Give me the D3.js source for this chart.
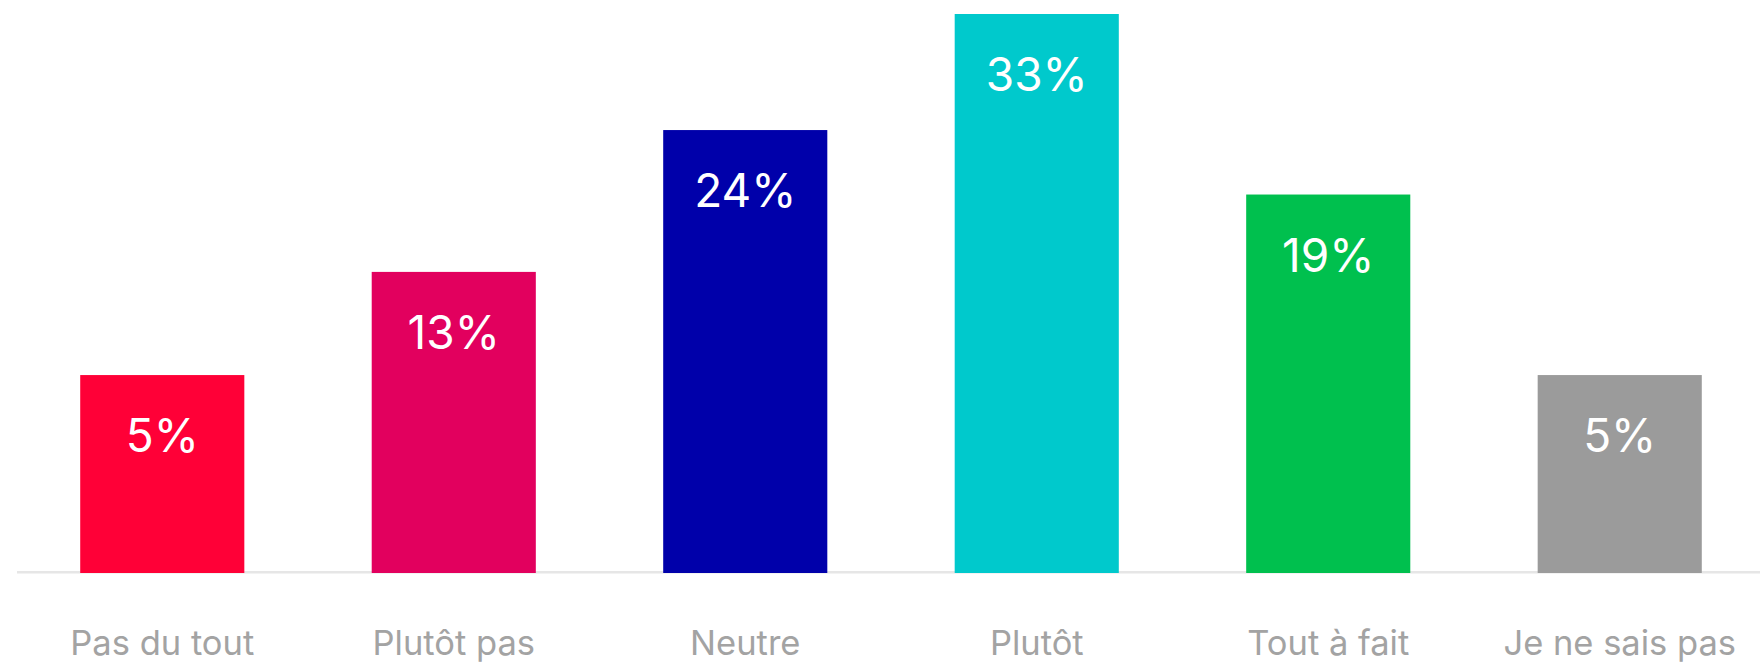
<!DOCTYPE html>
<html>
<head>
<meta charset="utf-8">
<script src="https://cdn.jsdelivr.net/npm/d3@7/dist/d3.min.js"></script>
<style>
  html, body { margin: 0; padding: 0; background: #ffffff; }
  svg { display: block; }
  text { font-family: Inter, "Noto Sans", sans-serif; }
</style>
</head>
<body>
<svg id="chart" width="1760" height="663"></svg>
<script>
// Survey answers and their shares (%)
const categories = ["Pas du tout", "Plutôt pas", "Neutre", "Plutôt", "Tout à fait", "Je ne sais pas"];
const values = [5, 13, 24, 33, 19, 5];
const colors = ["#ff0037", "#e2005e", "#0000aa", "#00c9cc", "#00c04e", "#9b9b9b"];
const valueLabels = values.map(v => v + "%");

const width = 1760, height = 663;
const baseline = 573;
const svg = d3.select("#chart");

const x = d3.scaleBand()
  .domain(categories)
  .range([19, 1763])
  .paddingInner(0.437)
  .paddingOuter(0.21);

// value axis starts below zero so short bars keep room for their label
const y = d3.scaleLinear()
  .domain([-10.35, 33])
  .range([baseline, 14]);

// baseline rule
svg.append("line")
  .attr("x1", 17).attr("x2", width)
  .attr("y1", 572.3).attr("y2", 572.3)
  .attr("stroke", "#e6e6e6")
  .attr("stroke-width", 2.5);

const rows = categories.map((c, i) => ({ c, v: values[i], color: colors[i], label: valueLabels[i] }));

svg.selectAll("rect.bar")
  .data(rows)
  .join("rect")
  .attr("class", "bar")
  .attr("x", d => x(d.c))
  .attr("width", x.bandwidth())
  .attr("y", d => y(d.v))
  .attr("height", d => baseline - y(d.v))
  .attr("fill", d => d.color);

svg.selectAll("text.value")
  .data(rows)
  .join("text")
  .attr("class", "value")
  .attr("x", d => x(d.c) + x.bandwidth() / 2)
  .attr("y", d => y(d.v) + 77)
  .attr("text-anchor", "middle")
  .attr("fill", "#ffffff")
  .attr("font-size", 46)
  .text(d => d.label);

// category labels under the baseline
const xAxis = d3.axisBottom(x).tickSize(0).tickPadding(0);
const axisG = svg.append("g")
  .attr("transform", `translate(0,${baseline})`)
  .call(xAxis);
axisG.select(".domain").remove();
axisG.selectAll("text")
  .attr("dy", null)
  .attr("y", 81.5)
  .attr("fill", "#a3a3a3")
  .attr("font-size", 34.5)
  .attr("font-family", "Inter, 'Noto Sans', sans-serif");
</script>
</body>
</html>
